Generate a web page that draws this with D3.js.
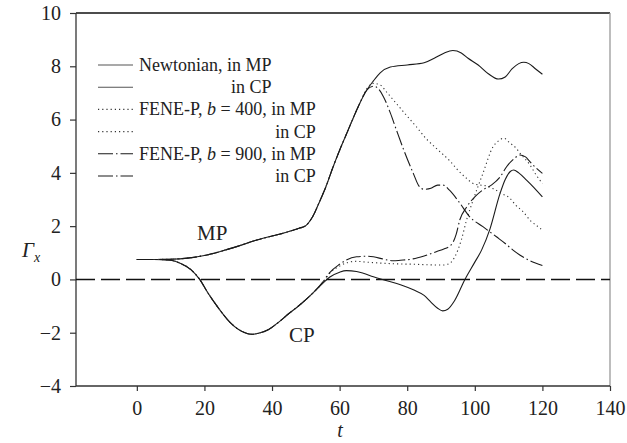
<!DOCTYPE html>
<html><head><meta charset="utf-8">
<script src="https://cdn.jsdelivr.net/npm/d3@7"></script>
<style>
html,body{margin:0;padding:0;background:#fff;}
svg{display:block;font-family:"Liberation Serif","Times New Roman",serif;}
</style></head>
<body>
<svg id="chart" width="627" height="443"></svg>
<script>
// ---- data ----
const xTicks = [0, 20, 40, 60, 80, 100, 120, 140];
const yTicks = [-4, -2, 0, 2, 4, 6, 8, 10];

const newtonianMP = [[0,0.75],[5,0.75],[10,0.76],[15,0.8],[20,0.9],[25,1.06],[30,1.25],[35,1.46],[40,1.63],[44,1.76],[48,1.92],[50,2.02],[52,2.35],[54,2.9],[56,3.5],[58,4.2],[60,4.85],[62,5.45],[64,6.05],[66,6.62],[68,7.1],[70,7.45],[72,7.75],[75,7.97],[80,8.05],[85,8.13],[88,8.3],[91,8.5],[93.5,8.59],[96,8.5],[98,8.3],[101,8.05],[104,7.72],[107,7.52],[109,7.6],[111,7.9],[113,8.1],[114.5,8.15],[116,8.1],[118,7.9],[120,7.7]];

const newtonianCP = [[0,0.75],[5,0.75],[10,0.72],[13,0.6],[16,0.37],[18.6,0],[21,-0.5],[24,-1.05],[27.5,-1.6],[30,-1.87],[32,-2.0],[34,-2.06],[36,-2.02],[39,-1.88],[42,-1.6],[45,-1.28],[48,-0.98],[52,-0.52],[55,-0.15],[57,0.08],[60,0.27],[62,0.33],[65,0.3],[67,0.23],[70,0.1],[74,-0.05],[78,-0.2],[82,-0.4],[85,-0.6],[87,-0.85],[89,-1.08],[90.5,-1.18],[92,-1.12],[94,-0.8],[97,-0.02],[100,0.65],[102,1.1],[104.5,1.9],[107.4,3.2],[109,3.75],[110.5,4.05],[111.5,4.11],[113,4.0],[115.3,3.73],[117.5,3.45],[120,3.1]];

const fene400MP = [[0,0.75],[5,0.75],[10,0.76],[15,0.8],[20,0.9],[25,1.06],[30,1.25],[35,1.46],[40,1.63],[44,1.76],[48,1.92],[50,2.02],[52,2.35],[54,2.9],[56,3.5],[58,4.2],[60,4.85],[62,5.45],[64,6.05],[66,6.62],[68,7.15],[70,7.36],[72,7.3],[74,7.02],[76.8,6.6],[79.5,6.2],[82.7,5.73],[85.5,5.3],[88.6,4.92],[92.6,4.45],[95,4.1],[97.5,3.8],[99.5,3.6],[101,3.55],[103,3.52],[105.5,3.4],[108,3.22],[110.4,3.05],[112,2.8],[114.3,2.54],[116.5,2.2],[118.5,2.0],[120,1.85]];

const fene400CP = [[0,0.75],[5,0.75],[10,0.72],[13,0.6],[16,0.37],[18.6,0],[21,-0.5],[24,-1.05],[27.5,-1.6],[30,-1.87],[32,-2.0],[34,-2.06],[36,-2.02],[39,-1.88],[42,-1.6],[45,-1.28],[48,-0.98],[52,-0.52],[55,-0.12],[57,0.22],[60,0.5],[62,0.62],[65,0.68],[67,0.66],[70,0.63],[74,0.6],[78,0.58],[82,0.57],[86,0.55],[90.6,0.54],[92.5,0.6],[94.1,0.85],[96,1.48],[97.5,2.2],[99.5,2.98],[102.4,3.98],[105.4,4.98],[107,5.2],[108.6,5.3],[110.4,5.12],[112.3,4.92],[113.3,4.75],[116.3,4.3],[118,3.95],[120,3.6]];

const fene900MP = [[0,0.75],[5,0.75],[10,0.76],[15,0.8],[20,0.9],[25,1.06],[30,1.25],[35,1.46],[40,1.63],[44,1.76],[48,1.92],[50,2.02],[52,2.35],[54,2.9],[56,3.5],[58,4.2],[60,4.85],[62,5.45],[64,6.05],[66,6.62],[68,7.1],[70,7.25],[71.5,7.15],[73,6.85],[75,6.25],[76.8,5.61],[79,4.85],[81.8,3.98],[83.5,3.5],[85,3.38],[87,3.42],[89,3.54],[90.6,3.54],[92.5,3.35],[95.6,2.86],[98.5,2.35],[102.4,1.98],[106.4,1.6],[109,1.35],[111.3,1.1],[113.3,0.92],[116,0.72],[120,0.52]];

const fene900CP = [[0,0.75],[5,0.75],[10,0.72],[13,0.6],[16,0.37],[18.6,0],[21,-0.5],[24,-1.05],[27.5,-1.6],[30,-1.87],[32,-2.0],[34,-2.06],[36,-2.02],[39,-1.88],[42,-1.6],[45,-1.28],[48,-0.98],[52,-0.52],[55,-0.1],[57,0.25],[60,0.57],[62,0.73],[65,0.85],[68,0.87],[70,0.85],[73,0.76],[75.8,0.7],[78,0.72],[81.7,0.77],[85,0.88],[88.6,1.04],[91,1.15],[92.6,1.25],[93.6,1.4],[94.5,1.7],[95.6,2.25],[97.5,2.7],[100,3.1],[102.4,3.36],[105,3.55],[107.5,3.85],[109.4,4.23],[111.8,4.55],[113.3,4.67],[115,4.6],[116.3,4.42],[118,4.2],[120,3.98]];

const legendLabels = ["Newtonian, in MP", "in CP", "FENE-P, b = 400, in MP", "in CP", "FENE-P, b = 900, in MP", "in CP"];
const curveLabels = ["MP", "CP"];

// ---- layout ----
const svg = d3.select("#chart");
const L = 76, R = 610, T = 13, B = 386;
const x = d3.scaleLinear().domain([-18, 140]).range([L, R]);
const y = d3.scaleLinear().domain([-4, 10]).range([B, T]);

const styles = {
  solid:   {color: "#1a1a1a", dash: null, w: 1.1},
  dotted:  {color: "#333", dash: "1.2,3", w: 1.1},
  dashdot: {color: "#1a1a1a", dash: "15,3,1.5,3", w: 1.1}
};
const series = [
  {data: newtonianMP, s: "solid"},
  {data: newtonianCP, s: "solid"},
  {data: fene400MP, s: "dotted"},
  {data: fene400CP, s: "dotted"},
  {data: fene900MP, s: "dashdot"},
  {data: fene900CP, s: "dashdot"}
];

// frame
svg.append("line").attr("x1", L).attr("x2", R).attr("y1", T).attr("y2", T).attr("stroke", "#111").attr("stroke-width", 1.5);
svg.append("line").attr("x1", R).attr("x2", R).attr("y1", T).attr("y2", B).attr("stroke", "#999").attr("stroke-width", 1.3);

// axes
const gx = svg.append("g").attr("transform", `translate(0,${B})`)
  .call(d3.axisBottom(x).tickValues(xTicks).tickSizeInner(5).tickSizeOuter(0).tickPadding(10));
const gy = svg.append("g").attr("transform", `translate(${L},0)`)
  .call(d3.axisLeft(y).tickValues(yTicks).tickSizeInner(6).tickSizeOuter(0).tickPadding(9)
    .tickFormat(d => d < 0 ? "\u2212" + Math.abs(d) : d));
[gx, gy].forEach(g => {
  g.select(".domain").attr("stroke", "#333").attr("stroke-width", 1.3);
  g.selectAll(".tick line").attr("stroke", "#333").attr("stroke-width", 1.2);
  g.selectAll(".tick text").attr("font-family", "Liberation Serif").attr("font-size", 20).attr("fill", "#222");
});
gx.select(".domain").attr("d", `M${L},0H${R}`);
gy.select(".domain").attr("d", `M0,${T}V${B}`);

// zero dashed line
svg.append("line").attr("x1", x(-18)).attr("x2", x(140)).attr("y1", y(0)).attr("y2", y(0))
  .attr("stroke", "#111").attr("stroke-width", 1.4).attr("stroke-dasharray", "19,6");

// curves
const line = d3.line().x(d => x(d[0])).y(d => y(d[1])).curve(d3.curveMonotoneX);
series.forEach(sr => {
  const st = styles[sr.s];
  svg.append("path").datum(sr.data).attr("d", line).attr("fill", "none")
    .attr("stroke", st.color).attr("stroke-width", st.w)
    .attr("stroke-dasharray", st.dash);
});

// legend
const legX1 = 98, legX2 = 133, legTx = 139, rowY0 = 65, rowDy = 22.2;
let rightEdge = 0;
legendLabels.forEach((lab, i) => {
  const yy = rowY0 + i * rowDy;
  const st = styles[series[i].s];
  svg.append("line").attr("x1", legX1).attr("x2", legX2).attr("y1", yy).attr("y2", yy)
    .attr("stroke", i < 2 ? "#555" : st.color).attr("stroke-width", st.w).attr("stroke-dasharray", st.dash);
  const t = svg.append("text").attr("y", yy + 6).attr("font-size", 18).attr("fill", "#222");
  if (i % 2 === 0) {
    t.attr("x", legTx);
    if (lab.indexOf(" b ") >= 0) {
      const parts = lab.split(" b ");
      t.append("tspan").text(parts[0] + " ");
      t.append("tspan").attr("font-style", "italic").text("b");
      t.append("tspan").text(" " + parts[1]);
    } else t.text(lab);
    rightEdge = legTx + t.node().getComputedTextLength();
  } else {
    t.attr("x", rightEdge).attr("text-anchor", "end").text(lab);
  }
});

// curve labels
svg.append("text").attr("x", 197).attr("y", 240).attr("font-size", 21).attr("fill", "#222").text(curveLabels[0]);
svg.append("text").attr("x", 289).attr("y", 342).attr("font-size", 21).attr("fill", "#222").text(curveLabels[1]);

// axis titles
const yt = svg.append("text").attr("x", 22).attr("y", 257).attr("font-size", 21).attr("font-style", "italic").attr("fill", "#222");
yt.append("tspan").text("\u0393");
yt.append("tspan").attr("font-size", 14).attr("dy", 5).text("x");
svg.append("text").attr("x", 340).attr("y", 437).attr("text-anchor", "middle").attr("font-size", 20)
  .attr("font-style", "italic").attr("fill", "#222").text("t");
</script>
</body></html>
